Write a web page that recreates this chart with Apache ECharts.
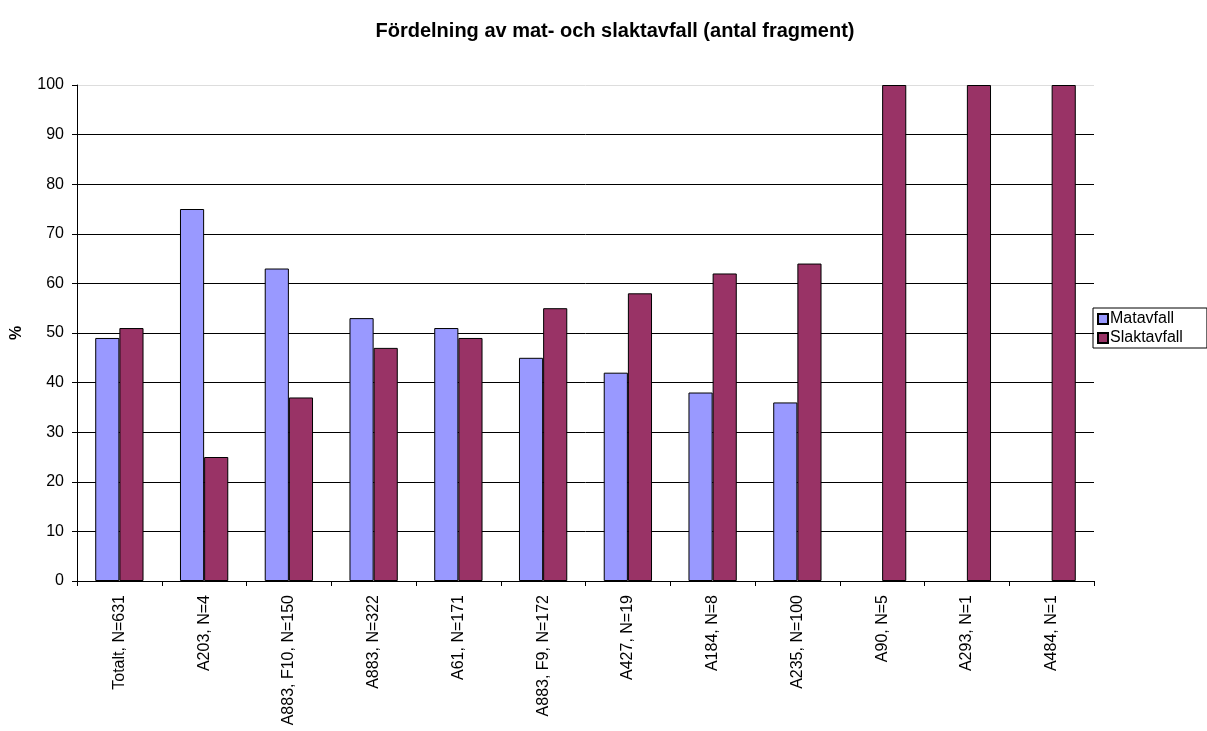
<!DOCTYPE html>
<html>
<head>
<meta charset="utf-8">
<script src="https://cdn.jsdelivr.net/npm/echarts@6/dist/echarts.min.js"></script>
<style>
  html, body { margin: 0; padding: 0; background: #fff; }
  #chart { width: 1207px; height: 731px; }
</style>
</head>
<body>
<div id="chart"></div>
<script>
const categories = ['Totalt, N=631', 'A203, N=4', 'A883, F10, N=150', 'A883, N=322', 'A61, N=171',
  'A883, F9, N=172', 'A427, N=19', 'A184, N=8', 'A235, N=100', 'A90, N=5', 'A293, N=1', 'A484, N=1']
const matavfall = [49, 75, 63, 53, 51, 45, 42, 38, 36, null, null, null]
const slaktavfall = [51, 25, 37, 47, 49, 55, 58, 62, 64, 100, 100, 100]
const yTicks = [0, 10, 20, 30, 40, 50, 60, 70, 80, 90, 100]

const chart = echarts.init(document.getElementById('chart'))
const font = 'Liberation Sans, Arial, sans-serif'

chart.setOption({
  animation: false,
  textStyle: { fontFamily: font },
  title: {
    text: 'Fördelning av mat- och slaktavfall (antal fragment)',
    left: 610,
    textAlign: 'center',
    top: 16,
    textStyle: { fontSize: 20, fontWeight: 'bold', color: '#000', fontFamily: font }
  },
  legend: {
    orient: 'vertical',
    left: 1093,
    top: 308,
    padding: [3, 24, 2, 4],
    borderColor: '#000',
    borderWidth: 1,
    itemWidth: 10,
    itemHeight: 10,
    itemGap: 3,
    icon: 'rect',
    textStyle: { fontSize: 16, color: '#000', padding: [0, 0, 0, -3] },
    data: ['Matavfall', 'Slaktavfall']
  },
  grid: { left: 77, right: 113, top: 85, bottom: 150, outerBoundsMode: 'none' },
  xAxis: {
    type: 'category',
    data: categories,
    axisLine: { lineStyle: { color: '#000', width: 1 } },
    axisTick: { show: true, length: 5, lineStyle: { color: '#000' } },
    axisLabel: { rotate: 90, fontSize: 16, color: '#000', margin: 14, interval: 0 }
  },
  yAxis: {
    type: 'value',
    min: yTicks[0],
    max: yTicks[yTicks.length - 1],
    interval: 10,
    name: '%',
    nameLocation: 'middle',
    nameGap: 52,
    nameRotate: 90,
    nameTextStyle: { fontSize: 16, fontWeight: 'bold', color: '#000' },
    axisLine: { show: true, lineStyle: { color: '#000' } },
    axisTick: { show: true, length: 5, inside: false, lineStyle: { color: '#000' } },
    axisLabel: { fontSize: 16, color: '#000', margin: 13 },
    splitLine: {
      show: true,
      lineStyle: {
        color: ['#000', '#000', '#000', '#000', '#000', '#000', '#000', '#000', '#000', '#000', '#ddd'],
        width: 1
      }
    }
  },
  series: [
    {
      name: 'Matavfall',
      type: 'bar',
      data: matavfall,
      barGap: '0%',
      barCategoryGap: '43%',
      itemStyle: { color: '#9999FF', borderColor: '#000', borderWidth: 1 }
    },
    {
      name: 'Slaktavfall',
      type: 'bar',
      data: slaktavfall,
      barGap: '0%',
      barCategoryGap: '43%',
      itemStyle: { color: '#993366', borderColor: '#000', borderWidth: 1 }
    }
  ]
})
</script>
</body>
</html>
